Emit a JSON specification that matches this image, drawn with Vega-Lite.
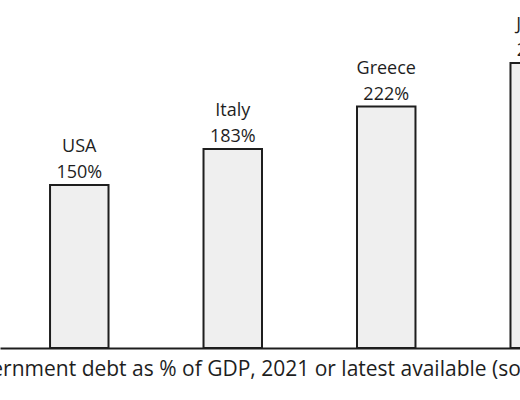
{
  "$schema": "https://vega.github.io/schema/vega-lite/v6.json",
  "autosize": {"type": "none"},
  "padding": {"left": 0, "top": 0, "right": 0, "bottom": 52},
  "width": 520,
  "height": 348,
  "background": "white",
  "config": {
    "view": {"stroke": null},
    "font": "Open Sans",
    "text": {"font": "Open Sans", "color": "#1e1e1e"}
  },
  "data": {
    "values": [
      {"country": "USA", "debt": 150, "label": "150%"},
      {"country": "Italy", "debt": 183, "label": "183%"},
      {"country": "Greece", "debt": 222, "label": "222%"},
      {"country": "Japan", "debt": 262, "label": "262%"}
    ]
  },
  "encoding": {
    "x": {
      "field": "country",
      "type": "nominal",
      "sort": null,
      "scale": {"range": [0, 619], "paddingInner": 0.619, "paddingOuter": 0.326},
      "axis": {
        "title": "General government debt as % of GDP, 2021 or latest available (source: IMF)",
        "titleFont": "Open Sans",
        "titleFontSize": 21,
        "titleFontWeight": "normal",
        "titleColor": "#1e1e1e",
        "titleBaseline": "alphabetic",
        "titlePadding": 27,
        "titleX": 245,
        "labels": false,
        "ticks": false,
        "domainColor": "#1e1e1e",
        "domainWidth": 2
      }
    },
    "y": {
      "field": "debt",
      "type": "quantitative",
      "scale": {"domain": [0, 320], "nice": false},
      "axis": null
    }
  },
  "layer": [
    {
      "mark": {"type": "bar", "fill": "#efefef", "stroke": "#1e1e1e", "strokeWidth": 2}
    },
    {
      "mark": {"type": "text", "baseline": "alphabetic", "dy": -7, "fontSize": 18},
      "encoding": {"text": {"field": "label", "type": "nominal"}}
    },
    {
      "mark": {"type": "text", "baseline": "alphabetic", "dy": -33, "fontSize": 18},
      "encoding": {"text": {"field": "country", "type": "nominal"}}
    }
  ]
}
